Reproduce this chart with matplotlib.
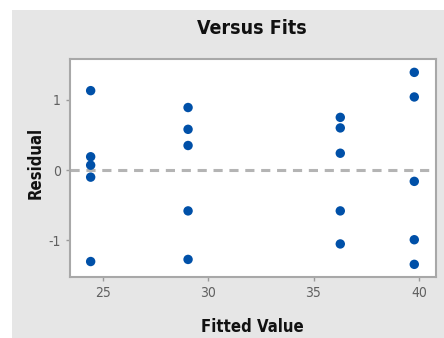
import matplotlib.pyplot as plt
from matplotlib.patches import Rectangle

# fitted values and residuals
fits_a = [24.43] * 5
res_a = [1.13, 0.19, 0.07, -0.10, -1.30]
fits_b = [29.05] * 5
res_b = [0.89, 0.58, 0.35, -0.58, -1.27]
fits_c = [36.27] * 5
res_c = [0.75, 0.60, 0.24, -0.58, -1.05]
fits_d = [39.78] * 5
res_d = [1.39, 1.04, -0.16, -0.99, -1.34]

fits = fits_a + fits_b + fits_c + fits_d
resid = res_a + res_b + res_c + res_d

xticks = [25, 30, 35, 40]
yticks = [-1, 0, 1]

W, H = 444, 338
fig = plt.figure(figsize=(W / 100, H / 100), dpi=100, facecolor='white')
# grey panel behind the plot
fig.patches.append(Rectangle((12 / W, 0), 1, 1 - 10 / H, transform=fig.transFigure,
                             facecolor='#e6e6e6', edgecolor='none', zorder=-10))

ax = fig.add_axes([70 / W, 1 - 277 / H, 366 / W, 218 / H])
ax.set_zorder(5)
ax.set_facecolor('white')
ax.axhline(0, color='#b4b4b4', linestyle=(0, (3, 2.2)), linewidth=2.2, zorder=1)
ax.scatter(fits, resid, s=46, color='#0050a8', edgecolors='none', zorder=3)

ax.set_xlim(23.45, 40.81)
ax.set_ylim(-1.52, 1.58)
ax.set_xticks(xticks)
ax.set_yticks(yticks)
ax.set_xticklabels([str(t) for t in xticks])
ax.set_yticklabels([str(t) for t in yticks])
ax.tick_params(colors='#9a9a9a', labelcolor='#606060', labelsize=10, length=3, width=1)
for lab in ax.get_xticklabels() + ax.get_yticklabels():
    lab.set_fontstretch('condensed')
for sp in ax.spines.values():
    sp.set_color('#a8a8a8')
    sp.set_linewidth(1.5)

fig.text(252 / W, 1 - 28 / H, 'Versus Fits', ha='center', va='center',
         fontsize=14, fontweight='bold', fontstretch='condensed', color='#111111')
fig.text(252 / W, 1 - 327 / H, 'Fitted Value', ha='center', va='center',
         fontsize=12, fontweight='bold', fontstretch='condensed', color='#111111')
fig.text(36 / W, 1 - 163 / H, 'Residual', ha='center', va='center', rotation=90,
         fontsize=12, fontweight='bold', fontstretch='condensed', color='#111111')

fig.savefig('out.png', dpi=100, facecolor='white')
